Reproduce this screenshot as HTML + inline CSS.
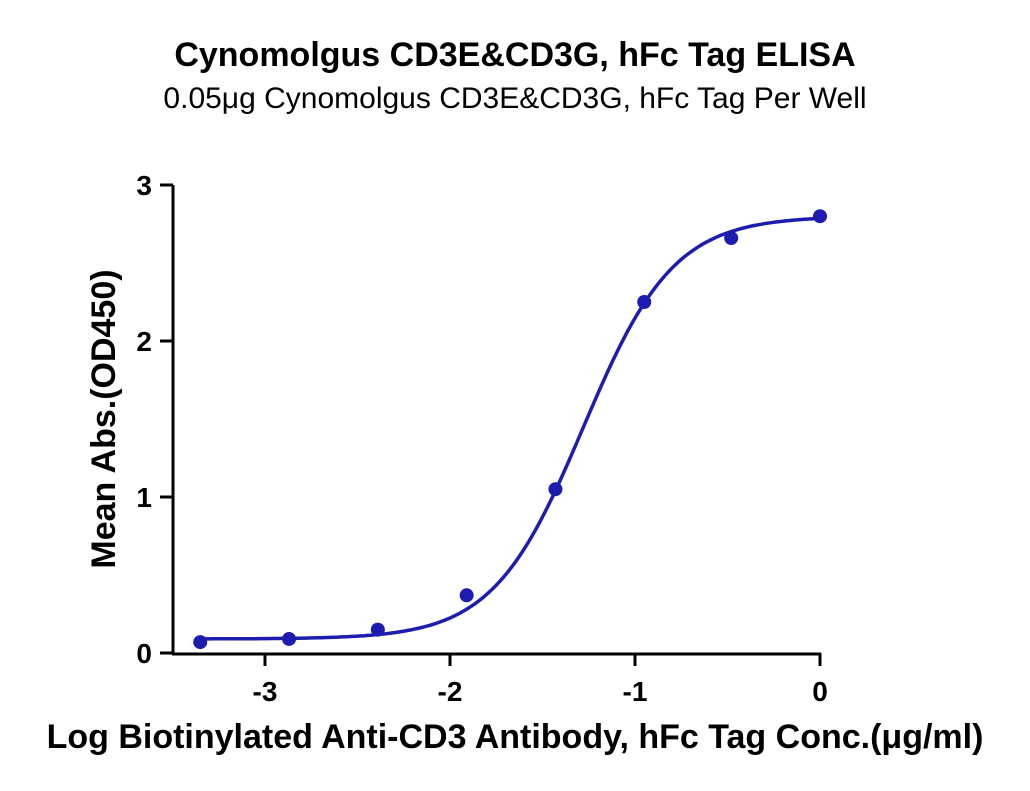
<!DOCTYPE html>
<html><head><meta charset="utf-8"><style>
body{margin:0;background:#fff;}
svg{display:block;font-family:"Liberation Sans",Arial,sans-serif;}
</style></head><body>
<svg id="c" width="1030" height="791">
<text x="515" y="66" text-anchor="middle" font-size="34" font-weight="bold">Cynomolgus CD3E&amp;CD3G, hFc Tag ELISA</text>
<text x="515" y="108" text-anchor="middle" font-size="30">0.05μg Cynomolgus CD3E&amp;CD3G, hFc Tag Per Well</text>
<text x="0" y="0" transform="translate(115,419) rotate(-90)" text-anchor="middle" font-size="34" font-weight="bold">Mean Abs.(OD450)</text>
<text x="515" y="748" text-anchor="middle" font-size="34" font-weight="bold">Log Biotinylated Anti-CD3 Antibody, hFc Tag Conc.(μg/ml)</text>
<g id="axes"></g><g id="plot"></g>
</svg>
<script>
const xs=[-3.35,-2.87,-2.39,-1.91,-1.43,-0.95,-0.48,0];
const ys=[0.07,0.09,0.15,0.37,1.05,2.25,2.66,2.80];
const xTicks=[-3,-2,-1,0];
const yTicks=[0,1,2,3];
const fitBottom=0.09, fitTop=2.80, fitLogEC50=-1.28, fitHill=1.78;
const NS="http://www.w3.org/2000/svg";
const X=v=>820+185*v, Y=v=>653-156*v;
function mk(t,a,p){const e=document.createElementNS(NS,t);for(const k in a)e.setAttribute(k,a[k]);p.appendChild(e);return e;}
const ax=document.getElementById('axes'), pl=document.getElementById('plot');
let l=mk('line',{x1:173,x2:173,y1:Y(3),y2:Y(0),stroke:'#000','stroke-width':3},ax);


l=mk('line',{x1:172,x2:X(0)+1,y1:Y(0)+1,y2:Y(0)+1,stroke:'#000','stroke-width':3},ax);


yTicks.forEach(t=>{
 const e=mk('line',{x1:160,x2:173,y1:Y(t),y2:Y(t),stroke:'#000','stroke-width':3},ax);
 
 
 const s=mk('text',{x:152,y:Y(t)+10,'text-anchor':'end','font-size':28,'font-weight':'bold'},ax);
 s.textContent=t;
 
 
});
xTicks.forEach(t=>{
 const e=mk('line',{x1:X(t),x2:X(t),y1:Y(0),y2:Y(0)+13,stroke:'#000','stroke-width':3},ax);
 
 
 const s=mk('text',{x:X(t),y:Y(0)+48,'text-anchor':'middle','font-size':28,'font-weight':'bold'},ax);
 s.textContent=t===0?'0':'-'+Math.abs(t);
 
 
});
let d='';
for(let i=0;i<=200;i++){const v=xs[0]+(xs[xs.length-1]-xs[0])*i/200;
 const f=fitBottom+(fitTop-fitBottom)/(1+Math.pow(10,(fitLogEC50-v)*fitHill));
 d+=(i?'L':'M')+X(v).toFixed(1)+','+Y(f).toFixed(1);}
const p=mk('path',{d:d,fill:'none',stroke:'#1c1cae','stroke-width':3.5},pl);


xs.forEach((x,i)=>{
 const c=mk('circle',{cx:X(x),cy:Y(ys[i]),r:7,fill:'#1c1cae'},pl);
 
 
});
</script>
</body></html>
